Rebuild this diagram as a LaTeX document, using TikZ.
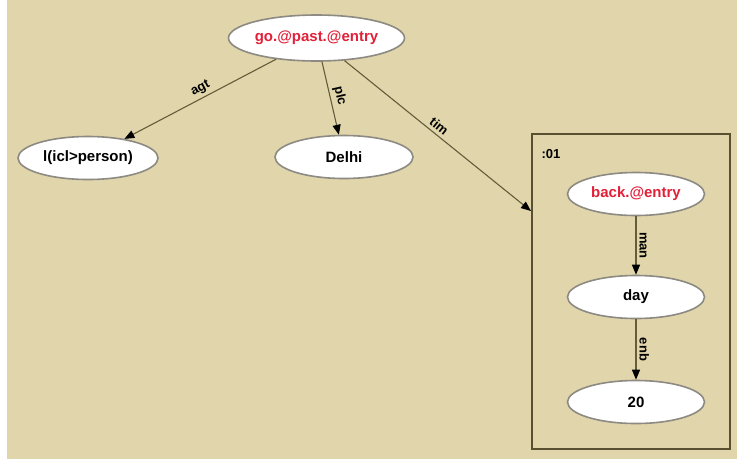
\documentclass[tikz,border=0pt]{standalone}
\usepackage{fontspec}
\setmainfont{Liberation Sans}
\usetikzlibrary{shapes.geometric,arrows.meta}
\definecolor{canvas}{RGB}{225,213,171}
\definecolor{edgeol}{RGB}{100,92,58}
\definecolor{boxol}{RGB}{88,80,48}
\definecolor{rim}{RGB}{140,138,130}
\definecolor{headred}{RGB}{226,32,56}
\tikzset{
  concept/.style={ellipse, draw=rim, line width=1.6pt, fill=white, inner sep=0pt,
    minimum width=140pt, minimum height=43pt,
    font=\fontsize{15}{17}\selectfont\bfseries},
  headconcept/.style={concept, text=headred},
  rel/.style={draw=edgeol, line width=1.1pt,
    -{Triangle[length=10pt,width=8pt,fill=black,color=black]}},
  rellabel/.style={font=\fontsize{13}{15}\selectfont\bfseries, inner sep=3pt},
  scopebox/.style={rectangle, draw=boxol, line width=2pt, inner sep=0pt}
}
\begin{document}
\begin{tikzpicture}[x=1pt,y=-1pt]
  % canvas
  \fill[white] (0,0) rectangle (737,459);
  \fill[canvas] (7,0) rectangle (737,459);
  \useasboundingbox (0,0) rectangle (737,459);

  % top level concepts
  \node[headconcept, minimum width=176pt, minimum height=46pt] (go) at (316.5,38) {go.@past.@entry};
  \node[concept] (agent) at (88,158) {l(icl>person)};
  \node[concept, minimum width=138pt] (delhi) at (344,157) {Delhi};

  % scope :01
  \node[scopebox, minimum width=198pt, minimum height=315pt] (scope) at (631,291.5) {};
  \node[font=\fontsize{13}{15}\selectfont\bfseries, inner sep=0pt] (scopeid) at (551,154) {:01};
  \node[headconcept, minimum width=137pt] (back) at (636,194) {back.@entry};
  \node[concept, minimum width=137pt] (day) at (636,297) {day};
  \node[concept, minimum width=137pt] (twenty) at (636,402) {20};

  % relations
  \draw[rel] (go) -- node[rellabel, sloped, above, pos=0.47] (agtlbl) {agt} (agent);
  \draw[rel] (go) -- node[rellabel, sloped, above, pos=0.5] (plclbl) {plc} (delhi);
  \draw[rel] (go) -- node[rellabel, sloped, above, pos=0.48] (timlbl) {tim} (scope);
  \draw[rel] (back) -- node[rellabel, rotate=-90, anchor=south, pos=0.5] (manlbl) {man} (day);
  \draw[rel] (day) -- node[rellabel, rotate=-90, anchor=south, pos=0.5] (enblbl) {enb} (twenty);
\end{tikzpicture}
\end{document}
